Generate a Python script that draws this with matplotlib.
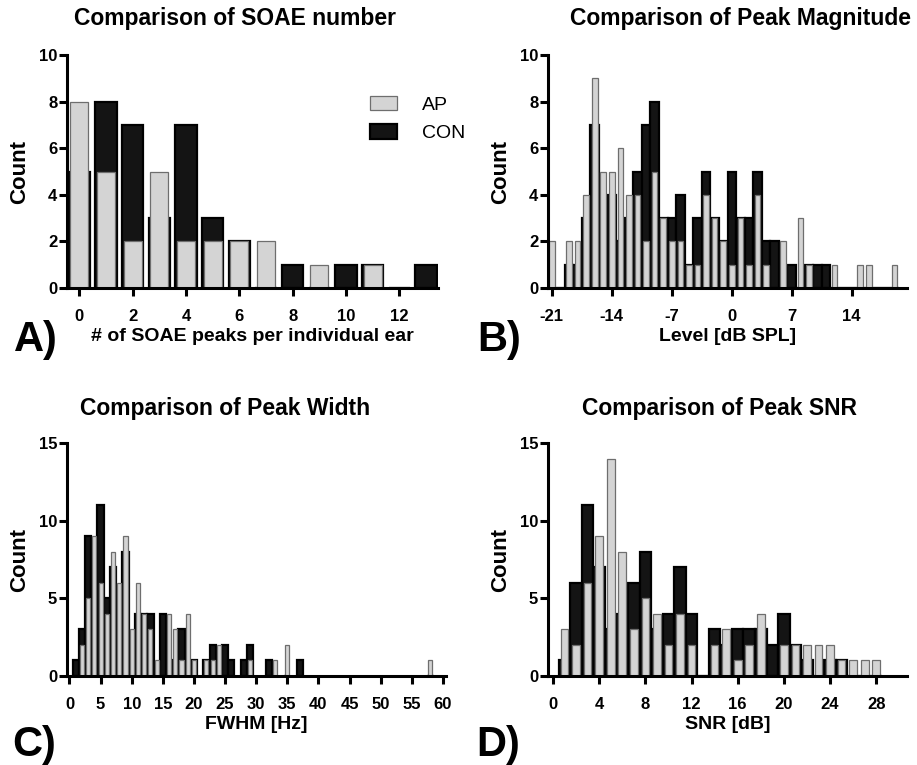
import matplotlib
matplotlib.use("Agg")
import matplotlib.pyplot as plt
from matplotlib import font_manager
from matplotlib.patches import Patch

# === Data ===
# A) number of SOAE peaks per ear
soae_n = list(range(14))
ap_soae = [8, 5, 2, 5, 2, 2, 2, 2, 0, 1, 0, 1, 0, 0]
con_soae = [5, 8, 7, 3, 7, 3, 2, 0, 1, 0, 1, 1, 0, 1]

# B) peak level, 1 dB bins from -21 to 19
level_db = list(range(-21, 20))
ap_level = [2, 0, 2, 2, 4, 9, 5, 5, 6, 4,
            4, 2, 5, 3, 2, 2, 1, 1, 4, 3,
            2, 1, 3, 1, 4, 1, 0, 2, 0, 3,
            1, 0, 0, 1, 0, 0, 1, 1, 0, 0,
            1]
con_level = [0, 0, 1, 1, 3, 7, 0, 4, 2, 3,
             5, 7, 8, 3, 3, 4, 1, 3, 5, 3,
             2, 5, 3, 3, 5, 2, 2, 0, 1, 0,
             1, 1, 1, 0, 0, 0, 0, 0, 0, 0,
             0]

# C) peak width (only bins with any count)
fwhm_hz = [1, 2, 3, 4, 5, 6, 7, 8, 9, 10, 11, 12, 13, 14, 15, 16, 17, 18, 19, 20,
           22, 23, 24, 25, 26, 28, 29, 32, 33, 35, 37, 58]
ap_fwhm = [0, 2, 5, 9, 6, 4, 8, 6, 9, 3, 6, 4, 3, 1, 0, 4, 3, 1, 4, 1,
           1, 1, 2, 0, 0, 0, 1, 0, 1, 2, 0, 1]
con_fwhm = [1, 3, 9, 7, 11, 5, 7, 4, 8, 2, 4, 4, 4, 0, 4, 0, 1, 3, 0, 1,
            1, 2, 0, 2, 1, 1, 2, 1, 0, 0, 1, 0]

# D) peak SNR, 1 dB bins
snr_db = list(range(1, 29))
ap_snr = [3, 2, 6, 9, 14, 8, 3, 5, 4, 2, 4, 2, 0, 2, 3, 1, 2, 4, 0, 2,
          2, 2, 2, 2, 1, 1, 1, 1]
con_snr = [1, 6, 11, 7, 3, 4, 6, 8, 3, 4, 7, 4, 0, 3, 2, 3, 3, 3, 2, 4,
           2, 1, 0, 1, 1, 0, 0, 0]

# === Fonts ===
installed = {f.name for f in font_manager.fontManager.ttflist}
plt.rcParams["font.family"] = ["Liberation Sans", "DejaVu Sans"]
plt.rcParams["axes.unicode_minus"] = False
if "Liberation Sans Narrow" in installed:
    tick_font = dict(family=["Liberation Sans Narrow", "Liberation Sans"], size=13)
else:
    tick_font = dict(family=["Liberation Sans", "DejaVu Sans"], size=12)

AP_FACE, AP_EDGE = "#d4d4d4", "#6e6e6e"
CON_FACE, CON_EDGE = "#141414", "#000000"

fig = plt.figure(figsize=(9.17, 7.65), dpi=100)
W, H = 917, 765


def px_axes(left, top, right, bottom):
    return fig.add_axes([left / W, 1 - bottom / H, (right - left) / W, (bottom - top) / H])


def panel(ax, x, ap, con, con_w, ap_w, xlim, ylim, xticks, yticks, xlabel):
    ax.bar(x, con, width=con_w, color=CON_FACE, edgecolor=CON_EDGE, linewidth=1.6, zorder=2)
    ax.bar(x, ap, width=ap_w, color=AP_FACE, edgecolor=AP_EDGE, linewidth=0.9, zorder=3)
    ax.set_xlim(*xlim)
    ax.set_ylim(*ylim)
    ax.set_xticks(xticks)
    ax.set_yticks(yticks)
    for side in ("top", "right"):
        ax.spines[side].set_visible(False)
    for side in ("left", "bottom"):
        ax.spines[side].set_linewidth(2.2)
        ax.spines[side].set_zorder(5)
    ax.tick_params(axis="x", direction="out", length=6, width=2.2, pad=9)
    ax.tick_params(axis="y", direction="out", length=6, width=2.2, pad=1)
    for lab in ax.get_xticklabels() + ax.get_yticklabels():
        lab.set_fontfamily(tick_font["family"])
        lab.set_fontsize(tick_font["size"])
        lab.set_fontweight("bold")
    ax.set_ylabel("Count", fontsize=16, fontweight="bold", labelpad=6)
    ax.set_xlabel(xlabel, fontsize=14, fontweight="bold", labelpad=3)


axA = px_axes(67, 55, 438, 288)
panel(axA, soae_n, ap_soae, con_soae, 0.8, 0.68, (-0.46, 13.45), (0, 10),
      range(0, 13, 2), range(0, 11, 2), "# of SOAE peaks per individual ear")
axA.legend(handles=[Patch(facecolor=AP_FACE, edgecolor=AP_EDGE, linewidth=0.9, label="AP"),
                    Patch(facecolor=CON_FACE, edgecolor=CON_EDGE, linewidth=1.6, label="CON")],
           loc="upper left", bbox_to_anchor=(360 / W, 1 - 86 / H), bbox_transform=fig.transFigure,
           frameon=False, fontsize=14, borderpad=0, handlelength=1.4, handleheight=0.75,
           handletextpad=1.3, labelspacing=0.55)

axB = px_axes(548, 55, 907, 288)
panel(axB, level_db, ap_level, con_level, 1.0, 0.66, (-21.45, 20.45), (0, 10),
      range(-21, 15, 7), range(0, 11, 2), "Level [dB SPL]")

axC = px_axes(67, 443, 446, 676)
panel(axC, fwhm_hz, ap_fwhm, con_fwhm, 1.0, 0.66, (-0.4, 60.5), (0, 15),
      range(0, 61, 5), range(0, 16, 5), "FWHM [Hz]")

axD = px_axes(548, 443, 907, 676)
panel(axD, snr_db, ap_snr, con_snr, 1.0, 0.66, (-0.43, 30.66), (0, 15),
      range(0, 29, 4), range(0, 16, 5), "SNR [dB]")

# titles and panel letters
titles = [("Comparison of SOAE number", 235, 18), ("Comparison of Peak Magnitude", 740, 18),
          ("Comparison of Peak Width", 225, 408), ("Comparison of Peak SNR", 720, 408)]
for text, x, y in titles:
    fig.text(x / W, 1 - y / H, text, ha="center", va="center", fontsize=16.5, fontweight="bold")

letters = [("A)", 36, 340), ("B)", 499, 340), ("C)", 34, 745), ("D)", 498, 745)]
for text, x, y in letters:
    fig.text(x / W, 1 - y / H, text, ha="center", va="center", fontsize=30, fontweight="bold")

fig.savefig("out.png", dpi=100)
